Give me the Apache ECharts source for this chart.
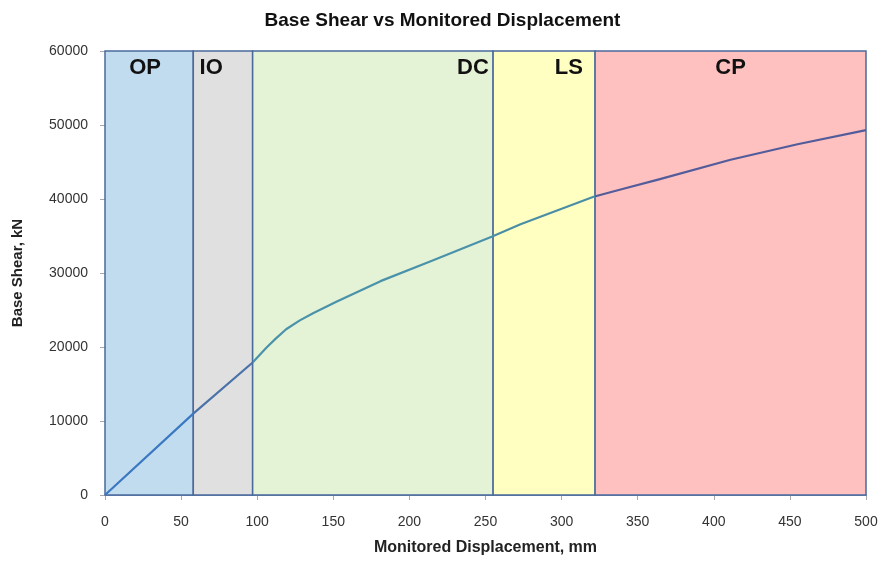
<!DOCTYPE html>
<html>
<head>
<meta charset="utf-8">
<script src="https://cdn.jsdelivr.net/npm/echarts@6/dist/echarts.min.js"></script>
<style>
html,body{margin:0;padding:0;background:#fff;}
#chart{width:885px;height:566px;}
</style>
</head>
<body>
<div id="chart"></div>
<script>
const displacement = [0, 58, 97, 106, 112, 119, 128, 137, 152, 181, 214, 254, 273, 321, 340, 364, 411, 455, 500];
const baseShear   = [0, 11000, 17900, 19900, 21100, 22400, 23600, 24600, 26100, 28900, 31600, 34900, 36600, 40300, 41350, 42650, 45300, 47400, 49300];
const zoneNames  = ['OP', 'IO', 'DC', 'LS', 'CP'];
const zoneBounds = [0, 58, 97, 255, 322, 500];
const zoneFills  = ['#c2dcef', '#e0e0e0', '#e4f2d6', '#ffffc2', '#ffc0c0'];
const lineColors = ['#3a78c2', '#4a72a8', '#4a92aa', '#4a8ea6', '#525c9a'];
const zoneLabelPos = [
  {position: 'insideTop', offset: [-4, 2]},
  {position: 'insideTopLeft', offset: [2, 2]},
  {position: 'insideTopRight', offset: [0, 2]},
  {position: 'insideTopRight', offset: [-8, 2]},
  {position: 'insideTop', offset: [0, 2]}
];

const FONT = 'Liberation Sans, Arial, sans-serif';
const points = displacement.map((d, i) => [d, baseShear[i]]);
const areas = zoneNames.map((n, i) => [
  {
    name: n, xAxis: zoneBounds[i],
    itemStyle: {color: zoneFills[i], borderColor: '#4a6a9c', borderWidth: 1.5},
    label: Object.assign({show: true, color: '#111', fontSize: 22, fontWeight: 'bold', fontFamily: FONT}, zoneLabelPos[i])
  },
  {xAxis: zoneBounds[i + 1]}
]);

const chart = echarts.init(document.getElementById('chart'));
chart.setOption({
  animation: false,
  backgroundColor: '#fff',
  title: {
    text: 'Base Shear vs Monitored Displacement',
    left: 'center', top: 6,
    textStyle: {fontSize: 19, fontWeight: 'bold', color: '#111', fontFamily: FONT}
  },
  grid: {left: 105, right: 19, top: 51, bottom: 71, outerBoundsMode: 'none', containLabel: false},
  xAxis: {
    type: 'value', min: 0, max: 500, interval: 50,
    name: 'Monitored Displacement, mm', nameLocation: 'middle', nameGap: 45,
    nameTextStyle: {fontSize: 16, fontWeight: 'bold', color: '#222', fontFamily: FONT},
    axisLine: {show: true, lineStyle: {color: '#4a6a9c', width: 1.5}},
    axisTick: {show: true, length: 5, lineStyle: {color: '#aaa'}},
    axisLabel: {fontSize: 14, color: '#333', margin: 20, fontFamily: FONT},
    splitLine: {show: false}
  },
  yAxis: {
    type: 'value', min: 0, max: 60000, interval: 10000,
    name: 'Base Shear, kN', nameLocation: 'middle', nameGap: 80, nameRotate: 90,
    nameTextStyle: {fontSize: 15, fontWeight: 'bold', color: '#222', fontFamily: FONT},
    axisLine: {show: true, lineStyle: {color: '#aaa'}},
    axisTick: {show: true, length: 5, lineStyle: {color: '#aaa'}},
    axisLabel: {fontSize: 14, color: '#333', margin: 17, fontFamily: FONT,
      formatter: v => String(v)},
    splitLine: {show: false}
  },
  visualMap: {
    type: 'piecewise', show: false, dimension: 0, seriesIndex: 1,
    pieces: zoneNames.map((n, i) => ({gte: zoneBounds[i], lt: i === 4 ? 1000 : zoneBounds[i + 1], color: lineColors[i]}))
  },
  series: [
    {
      type: 'line', data: [], z: 1, silent: true,
      markArea: {silent: true, data: areas}
    },
    {
      type: 'line', data: points, z: 5, smooth: false, showSymbol: false,
      lineStyle: {width: 2.2, join: 'round'}
    }
  ]
});
</script>
</body>
</html>
